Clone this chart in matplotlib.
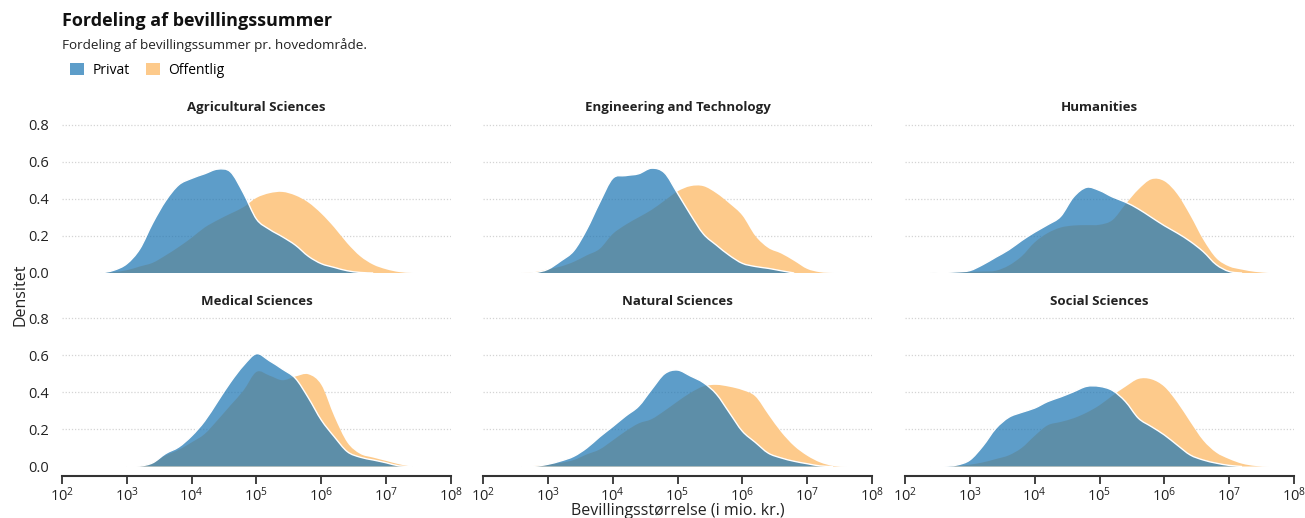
import matplotlib
matplotlib.use("Agg")
import matplotlib.pyplot as plt
from matplotlib.patches import Patch, PathPatch
from matplotlib.path import Path
from matplotlib.ticker import FixedLocator, LogFormatterSciNotation
import numpy as np

plt.rcParams['font.family'] = ['Open Sans', 'DejaVu Sans']

# Density curves evaluated on a log10 grid of grant sizes
log10_grid = [2.4, 2.6, 2.8, 3.0, 3.2, 3.4, 3.6, 3.8, 4.0, 4.2, 4.4, 4.6, 4.8, 5.0,
              5.2, 5.4, 5.6, 5.8, 6.0, 6.2, 6.4, 6.6, 6.8, 7.0, 7.2, 7.4, 7.6]

fields = ["Agricultural Sciences", "Engineering and Technology", "Humanities",
          "Medical Sciences", "Natural Sciences", "Social Sciences"]
groups = ["Privat", "Offentlig"]

agri_privat = [0, 0, 0.015, 0.05, 0.13, 0.27, 0.39, 0.475, 0.51, 0.535, 0.56, 0.545, 0.43, 0.29,
               0.235, 0.195, 0.15, 0.09, 0.05, 0.03, 0.012, 0.003, 0, 0, 0, 0, 0]
agri_offentlig = [0, 0, 0.005, 0.015, 0.035, 0.055, 0.095, 0.14, 0.19, 0.245, 0.285, 0.32, 0.355, 0.405,
                  0.43, 0.437, 0.418, 0.38, 0.32, 0.245, 0.16, 0.09, 0.045, 0.02, 0.005, 0, 0]

eng_privat = [0, 0, 0.002, 0.02, 0.065, 0.12, 0.235, 0.38, 0.51, 0.525, 0.535, 0.565, 0.54, 0.43,
              0.315, 0.21, 0.15, 0.095, 0.052, 0.035, 0.025, 0.012, 0, 0, 0, 0, 0]
eng_offentlig = [0, 0, 0.005, 0.02, 0.035, 0.06, 0.095, 0.13, 0.21, 0.26, 0.3, 0.34, 0.39, 0.44,
                 0.468, 0.468, 0.43, 0.375, 0.31, 0.2, 0.135, 0.105, 0.065, 0.022, 0.004, 0, 0]

hum_privat = [0, 0.003, 0.006, 0.013, 0.045, 0.085, 0.125, 0.175, 0.22, 0.26, 0.305, 0.41, 0.462, 0.445,
              0.41, 0.382, 0.345, 0.3, 0.255, 0.215, 0.17, 0.115, 0.045, 0.008, 0, 0, 0]
hum_offentlig = [0, 0.002, 0.004, 0.006, 0.008, 0.012, 0.04, 0.09, 0.165, 0.215, 0.245, 0.256, 0.258, 0.26,
                 0.285, 0.37, 0.45, 0.505, 0.495, 0.425, 0.31, 0.18, 0.08, 0.035, 0.018, 0.006, 0]

med_privat = [0, 0, 0, 0, 0.002, 0.02, 0.07, 0.105, 0.165, 0.245, 0.35, 0.455, 0.545, 0.608,
              0.57, 0.525, 0.475, 0.37, 0.25, 0.16, 0.08, 0.05, 0.035, 0.02, 0.003, 0, 0]
med_offentlig = [0, 0, 0, 0, 0.002, 0.02, 0.06, 0.09, 0.13, 0.175, 0.25, 0.33, 0.41, 0.51,
                 0.49, 0.465, 0.485, 0.497, 0.44, 0.27, 0.13, 0.068, 0.048, 0.03, 0.012, 0, 0]

nat_privat = [0, 0, 0.001, 0.012, 0.03, 0.055, 0.1, 0.16, 0.215, 0.272, 0.325, 0.415, 0.5, 0.52,
              0.488, 0.452, 0.39, 0.29, 0.19, 0.13, 0.072, 0.046, 0.028, 0.015, 0.003, 0, 0]
nat_offentlig = [0, 0, 0.003, 0.01, 0.02, 0.035, 0.065, 0.092, 0.14, 0.19, 0.232, 0.255, 0.3, 0.35,
                 0.397, 0.432, 0.44, 0.43, 0.412, 0.378, 0.28, 0.185, 0.11, 0.058, 0.022, 0.003, 0]

soc_privat = [0, 0.001, 0.008, 0.035, 0.11, 0.205, 0.265, 0.292, 0.315, 0.35, 0.375, 0.403, 0.432, 0.432,
              0.41, 0.35, 0.26, 0.215, 0.17, 0.115, 0.062, 0.035, 0.018, 0.006, 0, 0, 0]
soc_offentlig = [0, 0, 0.003, 0.01, 0.022, 0.04, 0.06, 0.1, 0.165, 0.222, 0.24, 0.26, 0.29, 0.33,
                 0.382, 0.43, 0.472, 0.47, 0.43, 0.345, 0.24, 0.14, 0.075, 0.04, 0.015, 0.003, 0]

panel_data = [
    (agri_privat, agri_offentlig),
    (eng_privat, eng_offentlig),
    (hum_privat, hum_offentlig),
    (med_privat, med_offentlig),
    (nat_privat, nat_offentlig),
    (soc_privat, soc_offentlig),
]

y_ticks = [0.0, 0.2, 0.4, 0.6, 0.8]
x_ticks = [1e2, 1e3, 1e4, 1e5, 1e6, 1e7, 1e8]

BLUE = "#1f77b4"
BLUE_ALPHA = 0.72
ORANGE = "#fdca8b"
TEXT = "#222222"
AXIS = "#333333"


def curve_segments(lx, ly):
    """Cubic Bezier (Catmull-Rom) vertices/codes through the density points."""
    pts = np.column_stack([lx, ly]).astype(float)
    n = len(pts)
    verts = [pts[0]]
    codes = [Path.MOVETO]
    for i in range(n - 1):
        p0 = pts[max(i - 1, 0)]
        p1 = pts[i]
        p2 = pts[i + 1]
        p3 = pts[min(i + 2, n - 1)]
        c1 = p1 + (p2 - p0) / 6.0
        c2 = p2 - (p3 - p1) / 6.0
        verts += [c1, c2, p2]
        codes += [Path.CURVE4] * 3
    verts = np.array(verts)
    verts[:, 1] = np.maximum(verts[:, 1], 0)
    verts[:, 0] = 10 ** verts[:, 0]
    return verts, codes


def area_path(lx, ly):
    verts, codes = curve_segments(lx, ly)
    verts = np.vstack([verts, [[10 ** lx[-1], 0], [10 ** lx[0], 0], [10 ** lx[0], 0]]])
    codes = codes + [Path.LINETO, Path.LINETO, Path.CLOSEPOLY]
    return Path(verts, codes)


def outline_path(lx, ly):
    idx = [k for k, v in enumerate(ly) if v > 0]
    lo, hi = max(idx[0] - 1, 0), min(idx[-1] + 1, len(ly) - 1)
    verts, codes = curve_segments(lx[lo:hi + 1], ly[lo:hi + 1])
    return Path(verts, codes)


W, H = 1305, 518
fig = plt.figure(figsize=(W / 100, H / 100), dpi=100)

col_left = [62, 483, 905]
col_width = 389
row_zero = [273, 466.5]
px_per_unit = 185.5
y_top = 0.85

for i, (field, (priv, pub)) in enumerate(zip(fields, panel_data)):
    r, c = divmod(i, 3)
    height_px = y_top * px_per_unit
    ax = fig.add_axes([col_left[c] / W, (H - row_zero[r]) / H, col_width / W, height_px / H])
    ax.set_xscale("log")
    ax.set_xlim(1e2, 1e8)
    ax.set_ylim(0, y_top)

    ax.add_patch(PathPatch(area_path(log10_grid, pub), facecolor=ORANGE,
                           edgecolor="none", zorder=2))
    ax.add_patch(PathPatch(area_path(log10_grid, priv), facecolor=BLUE, alpha=BLUE_ALPHA,
                           edgecolor="none", zorder=3))
    ax.add_patch(PathPatch(outline_path(log10_grid, priv), facecolor="none",
                           edgecolor="white", linewidth=1.0, zorder=4))

    for yv in y_ticks[1:]:
        ax.axhline(yv, color="#d4d4d4", linewidth=0.9, linestyle=(0, (1, 1.5)), zorder=1)

    for side in ("top", "right", "left"):
        ax.spines[side].set_visible(False)
    ax.yaxis.set_major_locator(FixedLocator(y_ticks))
    ax.tick_params(axis="y", length=0, labelsize=10.5, labelcolor=TEXT, pad=9)
    if c != 0:
        ax.set_yticklabels([])
    else:
        ax.set_yticklabels([f"{t:.1f}" for t in y_ticks])

    ax.xaxis.set_major_locator(FixedLocator(x_ticks))
    ax.xaxis.set_minor_locator(FixedLocator([]))
    if r == 0:
        ax.spines["bottom"].set_visible(False)
        ax.tick_params(axis="x", length=0, labelbottom=False)
    else:
        ax.spines["bottom"].set_position(("outward", 7))
        ax.spines["bottom"].set_color(AXIS)
        ax.spines["bottom"].set_linewidth(1.5)
        ax.xaxis.set_major_formatter(LogFormatterSciNotation())
        ax.tick_params(axis="x", length=6, width=1.3, color=AXIS,
                       labelsize=10.5, labelcolor=TEXT, pad=1)

    ax.set_title(field, fontsize=9.5, fontweight="bold", color=TEXT, pad=3)

fig.text(62 / W, 1 - 21 / H, "Fordeling af bevillingssummer", fontsize=13,
         fontweight="bold", color="#111111", ha="left", va="center")
fig.text(62 / W, 1 - 45 / H, "Fordeling af bevillingssummer pr. hovedområde.",
         fontsize=9.7, color=TEXT, ha="left", va="center")

handles = [Patch(facecolor=BLUE, alpha=BLUE_ALPHA, edgecolor="none"),
           Patch(facecolor=ORANGE, edgecolor="none")]
fig.legend(handles, groups, loc="center left", bbox_to_anchor=(70 / W, 1 - 70 / H),
           ncol=2, frameon=False, fontsize=10, handlelength=1.0, handleheight=1.0,
           handletextpad=0.6, columnspacing=1.2, borderaxespad=0, borderpad=0)

fig.text(20 / W, 1 - 295 / H, "Densitet", rotation=90, fontsize=11.5,
         color=TEXT, ha="center", va="center")
fig.text(678 / W, 1 - 511 / H, "Bevillingsstørrelse (i mio. kr.)", fontsize=11.5,
         color=TEXT, ha="center", va="center")

fig.savefig("out.png", dpi=100, facecolor="white")
